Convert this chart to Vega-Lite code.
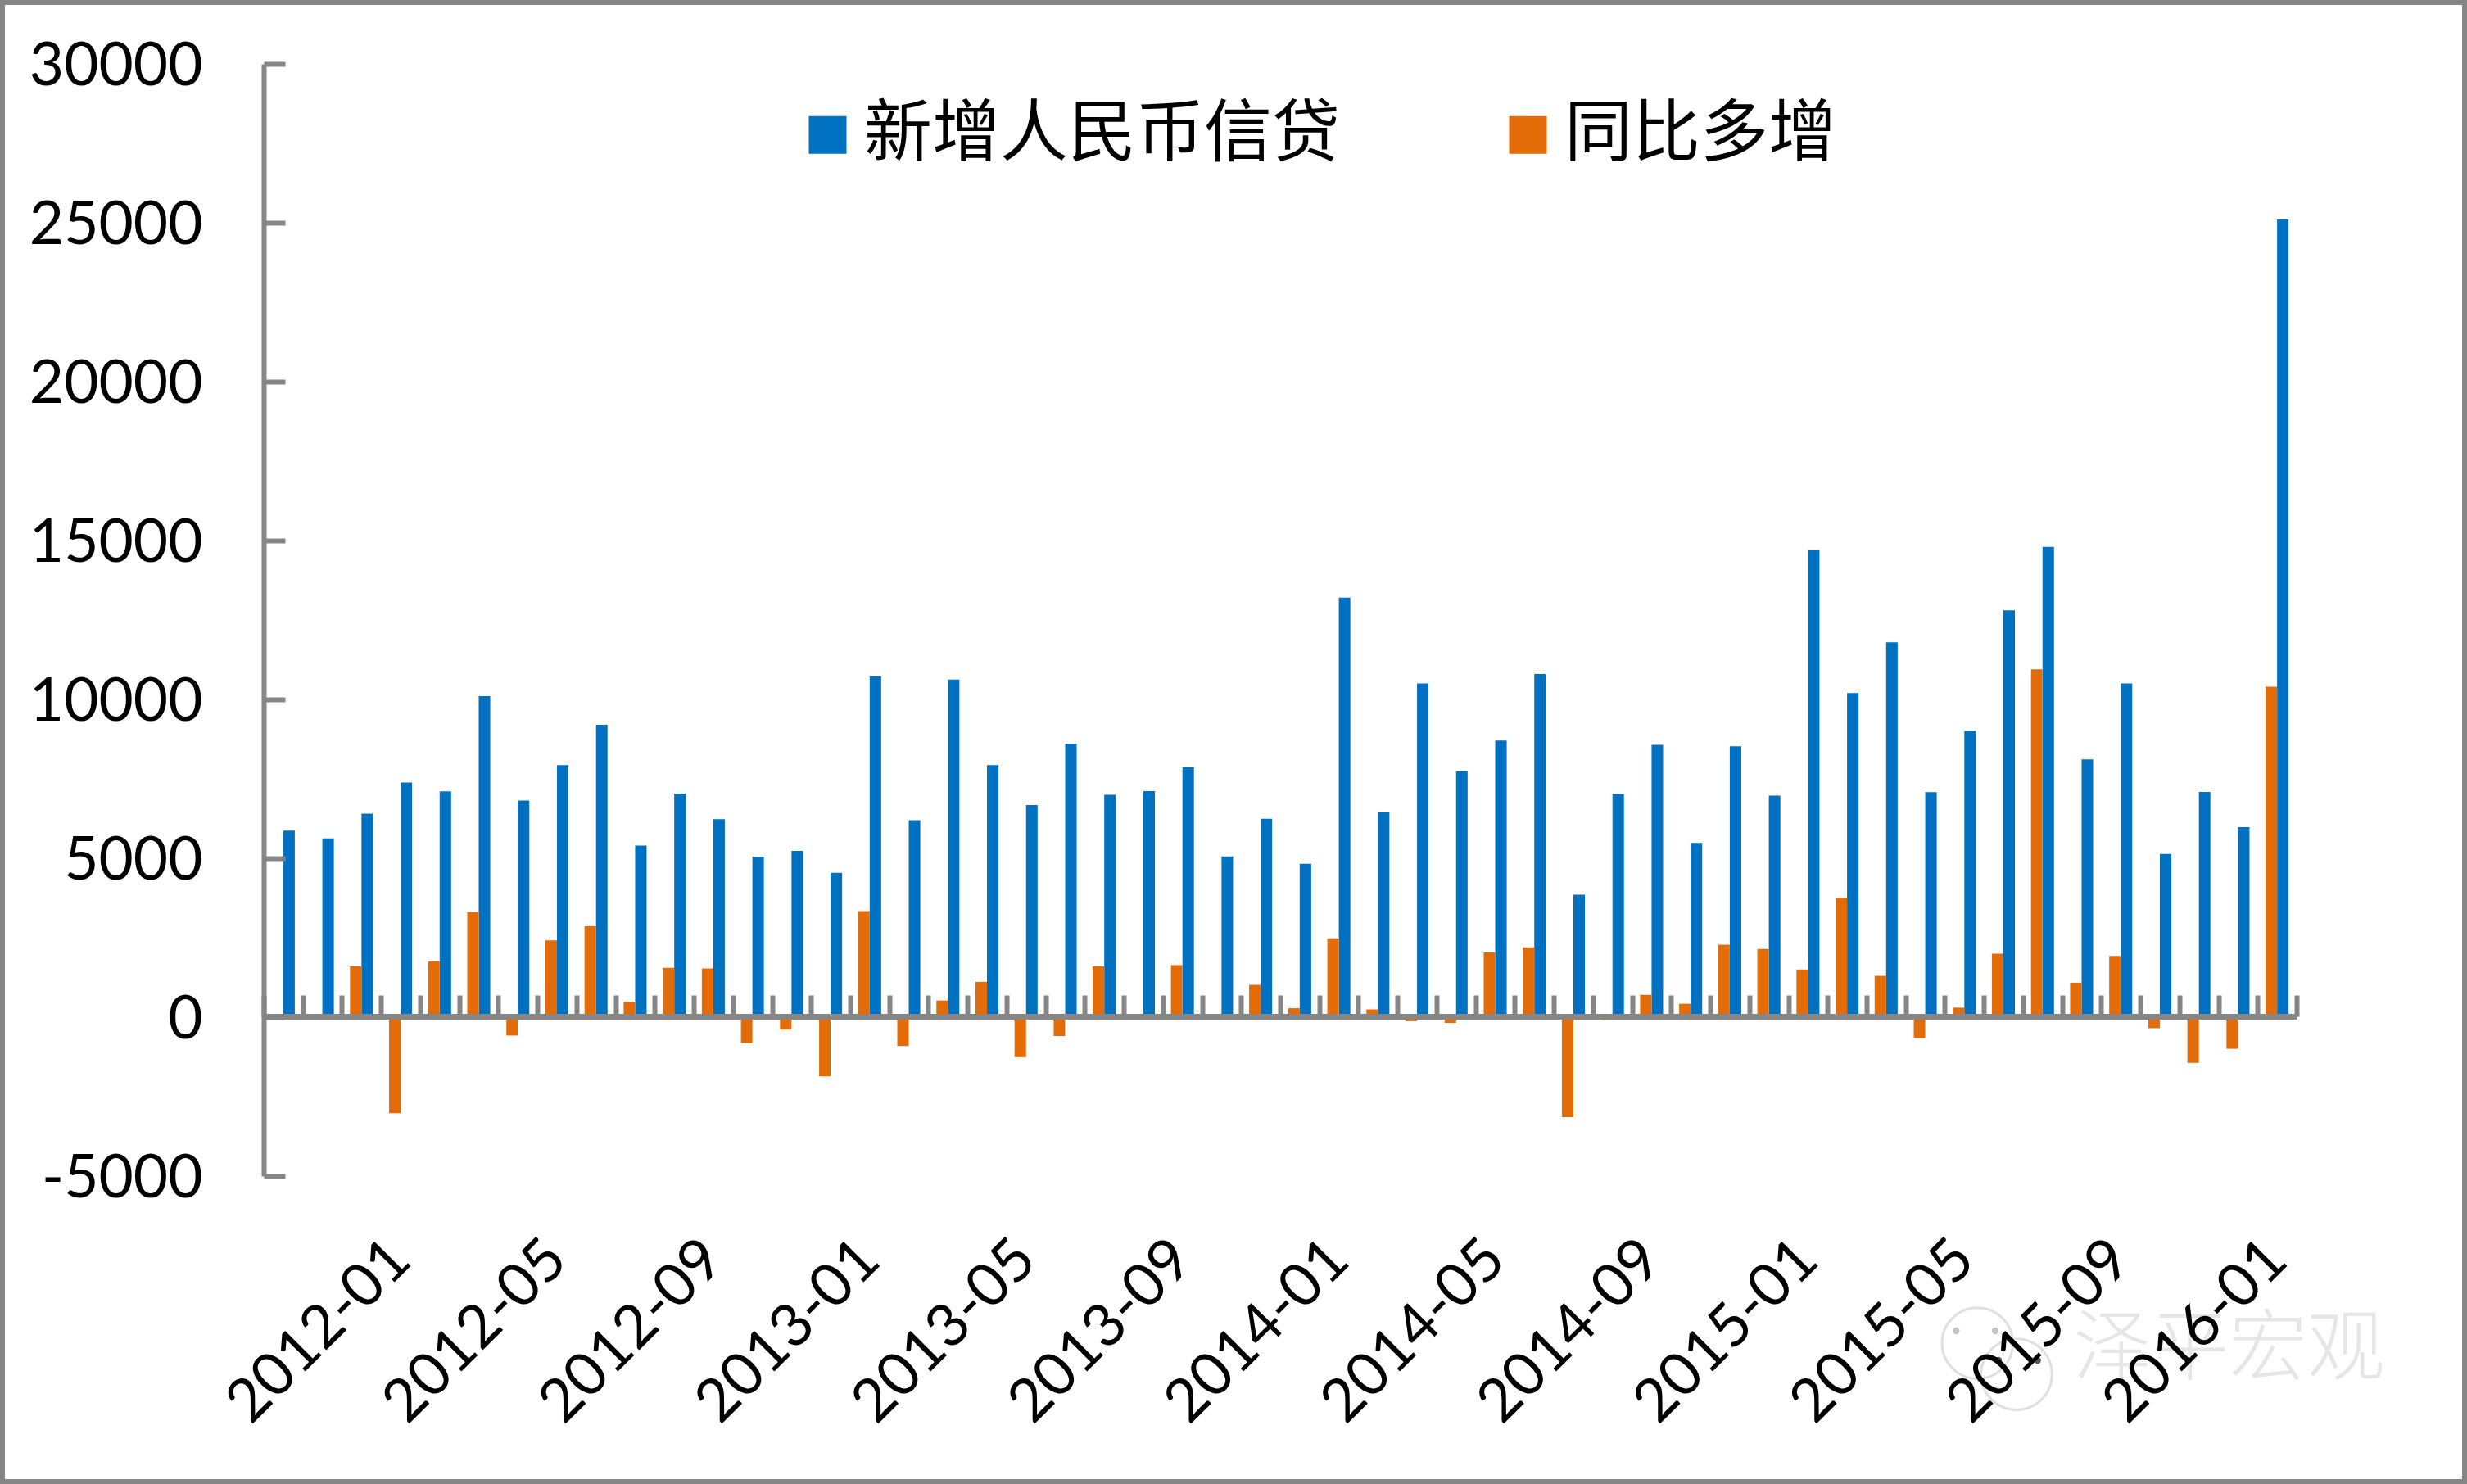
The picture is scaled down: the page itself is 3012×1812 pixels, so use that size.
{
  "$schema": "https://vega.github.io/schema/vega-lite/v6.json",
  "width": 3012,
  "height": 1812,
  "padding": 0,
  "autosize": "none",
  "background": "white",
  "view": {"stroke": "#868686", "strokeWidth": 12, "fill": "white"},
  "datasets": {
    "loans": [
      {"month":"2011-10","series":"新增人民币信贷","value":5868},{"month":"2011-10","series":"同比多增","value":-9},
      {"month":"2011-11","series":"新增人民币信贷","value":5622},{"month":"2011-11","series":"同比多增","value":-18},
      {"month":"2011-12","series":"新增人民币信贷","value":6405},{"month":"2011-12","series":"同比多增","value":1598},
      {"month":"2012-01","series":"新增人民币信贷","value":7381},{"month":"2012-01","series":"同比多增","value":-3019},
      {"month":"2012-02","series":"新增人民币信贷","value":7107},{"month":"2012-02","series":"同比多增","value":1752},
      {"month":"2012-03","series":"新增人民币信贷","value":10100},{"month":"2012-03","series":"同比多增","value":3306},
      {"month":"2012-04","series":"新增人民币信贷","value":6818},{"month":"2012-04","series":"同比多增","value":-578},
      {"month":"2012-05","series":"新增人民币信贷","value":7932},{"month":"2012-05","series":"同比多增","value":2416},
      {"month":"2012-06","series":"新增人民币信贷","value":9198},{"month":"2012-06","series":"同比多增","value":2859},
      {"month":"2012-07","series":"新增人民币信贷","value":5401},{"month":"2012-07","series":"同比多增","value":484},
      {"month":"2012-08","series":"新增人民币信贷","value":7039},{"month":"2012-08","series":"同比多增","value":1554},
      {"month":"2012-09","series":"新增人民币信贷","value":6232},{"month":"2012-09","series":"同比多增","value":1532},
      {"month":"2012-10","series":"新增人民币信贷","value":5052},{"month":"2012-10","series":"同比多增","value":-816},
      {"month":"2012-11","series":"新增人民币信贷","value":5229},{"month":"2012-11","series":"同比多增","value":-393},
      {"month":"2012-12","series":"新增人民币信贷","value":4543},{"month":"2012-12","series":"同比多增","value":-1862},
      {"month":"2013-01","series":"新增人民币信贷","value":10721},{"month":"2013-01","series":"同比多增","value":3340},
      {"month":"2013-02","series":"新增人民币信贷","value":6200},{"month":"2013-02","series":"同比多增","value":-907},
      {"month":"2013-03","series":"新增人民币信贷","value":10625},{"month":"2013-03","series":"同比多增","value":525},
      {"month":"2013-04","series":"新增人民币信贷","value":7929},{"month":"2013-04","series":"同比多增","value":1111},
      {"month":"2013-05","series":"新增人民币信贷","value":6674},{"month":"2013-05","series":"同比多增","value":-1258},
      {"month":"2013-06","series":"新增人民币信贷","value":8605},{"month":"2013-06","series":"同比多增","value":-593},
      {"month":"2013-07","series":"新增人民币信贷","value":6999},{"month":"2013-07","series":"同比多增","value":1598},
      {"month":"2013-08","series":"新增人民币信贷","value":7113},{"month":"2013-08","series":"同比多增","value":74},
      {"month":"2013-09","series":"新增人民币信贷","value":7870},{"month":"2013-09","series":"同比多增","value":1638},
      {"month":"2013-10","series":"新增人民币信贷","value":5061},{"month":"2013-10","series":"同比多增","value":9},
      {"month":"2013-11","series":"新增人民币信贷","value":6246},{"month":"2013-11","series":"同比多增","value":1017},
      {"month":"2013-12","series":"新增人民币信贷","value":4825},{"month":"2013-12","series":"同比多增","value":282},
      {"month":"2014-01","series":"新增人民币信贷","value":13200},{"month":"2014-01","series":"同比多增","value":2479},
      {"month":"2014-02","series":"新增人民币信贷","value":6445},{"month":"2014-02","series":"同比多增","value":245},
      {"month":"2014-03","series":"新增人民币信贷","value":10500},{"month":"2014-03","series":"同比多增","value":-125},
      {"month":"2014-04","series":"新增人民币信贷","value":7747},{"month":"2014-04","series":"同比多增","value":-182},
      {"month":"2014-05","series":"新增人民币信贷","value":8708},{"month":"2014-05","series":"同比多增","value":2034},
      {"month":"2014-06","series":"新增人民币信贷","value":10800},{"month":"2014-06","series":"同比多增","value":2195},
      {"month":"2014-07","series":"新增人民币信贷","value":3852},{"month":"2014-07","series":"同比多增","value":-3147},
      {"month":"2014-08","series":"新增人民币信贷","value":7025},{"month":"2014-08","series":"同比多增","value":-88},
      {"month":"2014-09","series":"新增人民币信贷","value":8572},{"month":"2014-09","series":"同比多增","value":702},
      {"month":"2014-10","series":"新增人民币信贷","value":5483},{"month":"2014-10","series":"同比多增","value":422},
      {"month":"2014-11","series":"新增人民币信贷","value":8527},{"month":"2014-11","series":"同比多增","value":2281},
      {"month":"2014-12","series":"新增人民币信贷","value":6973},{"month":"2014-12","series":"同比多增","value":2148},
      {"month":"2015-01","series":"新增人民币信贷","value":14700},{"month":"2015-01","series":"同比多增","value":1500},
      {"month":"2015-02","series":"新增人民币信贷","value":10200},{"month":"2015-02","series":"同比多增","value":3755},
      {"month":"2015-03","series":"新增人民币信贷","value":11800},{"month":"2015-03","series":"同比多增","value":1300},
      {"month":"2015-04","series":"新增人民币信贷","value":7079},{"month":"2015-04","series":"同比多增","value":-668},
      {"month":"2015-05","series":"新增人民币信贷","value":9008},{"month":"2015-05","series":"同比多增","value":300},
      {"month":"2015-06","series":"新增人民币信贷","value":12800},{"month":"2015-06","series":"同比多增","value":2000},
      {"month":"2015-07","series":"新增人民币信贷","value":14800},{"month":"2015-07","series":"同比多增","value":10948},
      {"month":"2015-08","series":"新增人民币信贷","value":8110},{"month":"2015-08","series":"同比多增","value":1085},
      {"month":"2015-09","series":"新增人民币信贷","value":10500},{"month":"2015-09","series":"同比多增","value":1928},
      {"month":"2015-10","series":"新增人民币信贷","value":5136},{"month":"2015-10","series":"同比多增","value":-347},
      {"month":"2015-11","series":"新增人民币信贷","value":7089},{"month":"2015-11","series":"同比多增","value":-1438},
      {"month":"2015-12","series":"新增人民币信贷","value":5978},{"month":"2015-12","series":"同比多增","value":-995},
      {"month":"2016-01","series":"新增人民币信贷","value":25100},{"month":"2016-01","series":"同比多增","value":10400}
    ],
    "watermark": [{"month":"2015-12","value":-10500,"label":"泽平宏观"}],
    "bubbles": [{"month":"2015-05","value":-10260},{"month":"2015-06","value":-11240}],
    "eyesBack": [{"month":"2015-05","value":-9870},{"month":"2015-06","value":-9870}],
    "eyesFront": [{"month":"2015-06","value":-10800},{"month":"2015-07","value":-10800}]
  },
  "layer": [
    {
      "data": {"name": "watermark"},
      "mark": {"type": "text", "font": "Noto Sans CJK SC", "fontWeight": 300, "fontSize": 95, "color": "#e6e6e6", "dx": -11},
      "encoding": {
        "x": {"field": "month", "type": "ordinal"},
        "y": {"field": "value", "type": "quantitative"},
        "text": {"field": "label"}
      }
    },
    {
      "data": {"name": "bubbles"},
      "mark": {"type": "point", "filled": false, "size": 7500, "strokeWidth": 3, "color": "#d4d4d4", "xOffset": 16},
      "encoding": {
        "x": {"field": "month", "type": "ordinal"},
        "y": {"field": "value", "type": "quantitative"}
      }
    },
    {
      "data": {"name": "eyesBack"},
      "mark": {"type": "circle", "size": 70, "opacity": 1, "color": "#c4c4c4", "xOffset": -10},
      "encoding": {
        "x": {"field": "month", "type": "ordinal"},
        "y": {"field": "value", "type": "quantitative"}
      }
    },
    {
      "data": {"name": "eyesFront"},
      "mark": {"type": "circle", "size": 70, "opacity": 1, "color": "#555555", "xOffset": -6},
      "encoding": {
        "x": {"field": "month", "type": "ordinal"},
        "y": {"field": "value", "type": "quantitative"}
      }
    },
    {
      "data": {"name": "loans"},
      "mark": {"type": "bar"},
      "encoding": {
        "x": {
          "field": "month",
          "type": "ordinal",
          "title": null,
          "scale": {"range": [322, 2804], "paddingInner": 0, "paddingOuter": 0},
          "axis": {
            "offset": -571,
            "zindex": 1,
            "tickBand": "extent",
            "tickSize": -26,
            "tickWidth": 6,
            "tickColor": "#868686",
            "domainColor": "#868686",
            "domainWidth": 7,
            "labelExpr": "(+substring(datum.value,5,7)-1)%4==0 ? datum.value : ''",
            "labelOverlap": false,
            "labelAngle": -45,
            "labelAlign": "right",
            "labelBaseline": "middle",
            "labelPadding": 311,
            "labelFont": "Lato",
            "labelFontSize": 73,
            "labelColor": "black",
            "labelLimit": 1000,
            "labelBound": false,
            "labelFlush": false
          }
        },
        "xOffset": {
          "field": "series",
          "type": "nominal",
          "scale": {"domain": ["同比多增", "新增人民币信贷"], "paddingOuter": 0.7, "paddingInner": 0}
        },
        "y": {
          "field": "value",
          "type": "quantitative",
          "title": null,
          "scale": {"domain": [-5000, 30000], "range": [1436, 78], "nice": false, "zero": false},
          "axis": {
            "offset": -322,
            "zindex": 1,
            "values": [-5000, 0, 5000, 10000, 15000, 20000, 25000, 30000],
            "labelExpr": "'' + datum.value",
            "grid": false,
            "tickSize": -26,
            "tickWidth": 6,
            "tickColor": "#868686",
            "domainColor": "#868686",
            "domainWidth": 6,
            "labelPadding": 101,
            "labelOffset": 3,
            "labelLimit": 1000,
            "labelFont": "Lato",
            "labelFontSize": 73,
            "labelColor": "black"
          }
        },
        "color": {
          "field": "series",
          "type": "nominal",
          "scale": {"domain": ["新增人民币信贷", "同比多增"], "range": ["#0070c0", "#e36c09"]},
          "legend": {
            "orient": "none",
            "legendX": 969,
            "legendY": 123,
            "title": null,
            "direction": "horizontal",
            "columns": 2,
            "columnPadding": 188,
            "symbolType": "square",
            "symbolSize": 2116,
            "symbolStrokeWidth": 0,
            "labelOffset": 3,
            "labelFont": "Noto Sans CJK SC",
            "labelFontSize": 83,
            "labelLimit": 800,
            "labelColor": "black"
          }
        }
      }
    }
  ]
}
